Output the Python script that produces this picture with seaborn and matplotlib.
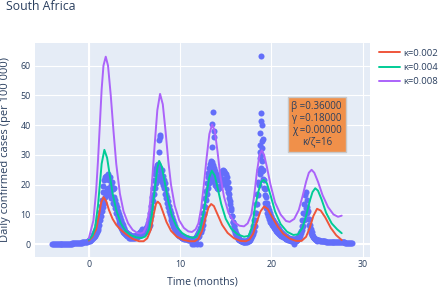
import numpy as np
import pandas as pd
import matplotlib
matplotlib.use('Agg')
import matplotlib.pyplot as plt
import seaborn as sns

# Observed daily cases (per 100 000), one value every 0.1 month from t=-4.0
cases_a = [
    0.1, 0.1, 0.1, 0.1, 0.1, 0.1, 0.1, 0.1, 0.1, 0.1,
    0.1, 0.1, 0.1, 0.1, 0.2, 0.1, 0.2, 0.2, 0.2, 0.2,
    0.2, 0.3, 0.2, 0.3, 0.3, 0.3, 0.4, 0.3, 0.4, 0.4,
    0.5, 0.4, 0.5, 0.6, 0.6, 0.7, 0.7, 0.9, 0.9, 1.1,
    1.3, 1.5, 1.8, 2.1, 2.5, 3.0, 3.6, 4.3, 5.2, 6.3,
    7.5, 9.0, 10.8, 12.8, 15.0, 17.5, 19.5, 21.5, 22.5, 23.0,
    22.0, 23.5, 21.5, 22.5, 20.0, 21.0, 18.5, 19.0, 16.0, 15.0,
    13.5, 12.5, 11.0, 10.0, 9.0, 8.0, 7.2, 6.4, 5.6, 5.0,
    4.6, 4.2, 3.8, 3.5, 3.3, 3.1, 2.9, 2.8, 2.7, 2.6,
    2.6, 2.7, 2.9, 3.1, 3.4, 3.8, 4.2, 4.6, 5.0, 4.6,
    4.8, 5.2, 5.0, 5.5, 6.2, 7.0, 8.5, 10.5, 13.0, 16.0,
    19.0, 21.5, 23.5, 25.0, 25.5, 26.5, 27.0, 31.0, 25.5, 24.5,
    25.0, 23.0, 21.5, 20.5, 18.5, 17.0, 16.0, 14.5, 13.0, 11.5,
    10.5, 9.0, 8.0, 7.0, 6.0, 5.2, 4.5, 4.0, 3.6, 3.2,
    3.0, 2.8, 2.6, 2.5, 2.4, 2.3, 2.2, 2.1, 2.0, 2.0,
    1.9, 1.8, 1.8, 1.7, 1.7, 1.8, 2.0, 2.3, 2.7, 3.2,
    3.8, 4.5, 5.5, 7.0, 8.5, 10.5, 13.0, 15.5, 18.0, 20.5,
    22.5, 24.0, 25.5, 27.0, 28.0, 27.5, 26.5, 25.5, 24.5, 23.5,
    22.5, 22.0, 21.5, 22.0, 23.0, 24.0, 24.5, 25.0, 24.5, 24.0,
    23.5, 22.5, 21.0, 19.0, 17.0, 14.5, 12.0, 9.5, 7.5, 6.0,
    4.8, 3.8, 3.0, 2.4, 1.9, 1.6, 1.4, 1.2, 1.1, 1.0,
    1.0, 1.0, 1.0, 1.1, 1.3, 1.6, 2.0, 2.6, 3.4, 4.5,
    6.0, 8.0, 10.5, 13.5, 17.0, 21.0, 25.0, 29.0, 31.0, 30.0,
    28.0, 25.0, 21.5, 18.5, 16.0, 14.0, 12.5, 11.5, 10.5, 9.5,
    9.0, 8.5, 8.0, 7.5, 7.0, 6.5, 6.0, 5.5, 5.0, 4.5,
    4.2, 3.9, 3.6, 3.3, 3.0, 2.8, 2.6, 2.4, 2.2, 2.0,
    1.9, 1.8, 1.7, 1.6, 1.6, 1.6, 1.7, 1.8, 2.0, 2.3,
    2.8, 3.6, 4.6, 6.0, 8.0, 10.5, 13.5, 16.5, 17.5, 15.0,
    11.0, 8.5, 6.5, 5.0, 4.0, 3.2, 2.6, 2.2, 1.9, 1.7,
    1.5, 1.4, 1.3, 1.2, 1.2, 1.1, 1.1, 1.0, 1.0, 1.0,
    0.9, 0.9, 0.9, 0.8, 0.8, 0.8, 0.8, 0.8, 0.7, 0.7,
    0.7, 0.7, 0.7, 0.6, 0.6, 0.6, 0.6, 0.6, 0.6, 0.6,
    0.6, 0.5, 0.5, 0.5, 0.5, 0.5, 0.5, 0.5, 0.5,
]
# the in-between days from t=0.05 to 24.95 (gives the spread of the cloud)
cases_b = [
    1.0, 1.2, 1.5, 1.8, 2.0, 2.4, 2.8, 3.4, 4.0, 4.8,
    5.5, 6.5, 8.0, 9.5, 11.0, 12.5, 14.0, 16.0, 17.5, 18.5,
    17.5, 19.0, 16.5, 17.5, 15.5, 16.0, 14.0, 13.5, 12.0, 10.5,
    10.0, 9.0, 8.0, 7.0, 6.2, 5.5, 4.8, 4.2, 3.8, 3.4,
    3.1, 2.8, 2.6, 2.4, 2.2, 2.1, 2.0, 2.0, 2.0, 2.1,
    2.2, 2.3, 2.4, 2.6, 2.8, 3.0, 3.2, 3.5, 3.8, 3.6,
    3.8, 4.2, 4.3, 4.6, 5.0, 5.8, 6.5, 8.0, 9.5, 12.0,
    14.5, 17.0, 19.0, 20.5, 21.5, 22.0, 23.0, 24.5, 22.0, 21.5,
    21.0, 20.0, 19.0, 17.0, 15.5, 14.0, 12.5, 11.0, 10.0, 9.0,
    8.0, 7.0, 6.2, 5.5, 4.8, 4.2, 3.6, 3.2, 2.9, 2.6,
    2.4, 2.2, 2.1, 2.0, 1.9, 1.8, 1.7, 1.6, 1.5, 1.5,
    1.4, 1.3, 1.2, 0.0, 1.3, 0.0, 1.5, 1.8, 0.0, 2.5,
    2.9, 0.0, 4.0, 5.0, 6.5, 8.0, 10.0, 12.5, 15.0, 17.0,
    19.0, 20.5, 21.5, 23.0, 24.0, 23.5, 22.0, 21.0, 20.0, 19.5,
    19.0, 18.5, 19.0, 19.5, 20.0, 21.0, 21.5, 22.0, 21.0, 20.5,
    20.0, 19.0, 17.5, 15.5, 13.5, 11.5, 9.5, 7.5, 6.0, 4.8,
    3.8, 3.0, 2.4, 1.9, 1.5, 1.3, 1.1, 1.0, 0.9, 0.8,
    0.8, 0.8, 0.8, 0.9, 1.0, 1.2, 1.5, 2.0, 2.6, 3.5,
    4.5, 6.0, 8.0, 10.5, 13.5, 16.5, 20.0, 23.5, 25.5, 24.5,
    22.0, 19.0, 16.5, 14.0, 12.0, 10.5, 9.5, 8.5, 7.5, 7.0,
    6.5, 6.0, 5.6, 5.2, 4.8, 4.4, 4.0, 3.7, 3.4, 3.1,
    2.9, 2.7, 2.5, 2.3, 2.1, 1.9, 1.8, 1.6, 1.5, 1.4,
    1.3, 1.2, 1.1, 1.1, 0.0, 1.1, 1.2, 1.3, 1.5, 1.8,
    2.2, 2.8, 3.6, 4.8, 6.2, 8.0, 10.0, 12.0, 12.5, 10.5,
    8.5, 6.5, 5.0, 3.8, 3.0, 2.4, 2.0, 1.6, 1.4, 1.2,
]
# isolated high reports
outlier_t = [7.75, 7.8, 7.72, 13.55, 13.5, 13.7, 13.75, 13.5,
             18.83, 18.85, 18.9, 18.92, 18.8, 19.05, 19.0, 18.8, 18.95]
outlier_y = [36.6, 35.9, 35.1, 44.3, 40.5, 37.9, 36.0, 32.5,
             63.4, 44.1, 41.5, 39.9, 37.4, 35.5, 34.8, 33.4, 32.3]

# model curves
k002_t = [0.0, 0.4, 0.8, 1.1, 1.35, 1.6, 1.9, 2.2, 2.6, 3.0, 3.5, 4.1, 4.8, 5.5, 6.0,
          6.4, 6.8, 7.1, 7.35, 7.55, 7.8, 8.1, 8.5, 9.0, 9.6, 10.3, 11.0, 11.6, 12.0,
          12.4, 12.8, 13.1, 13.4, 13.7, 14.1, 14.6, 15.2, 15.9, 16.6, 17.2, 17.6,
          18.0, 18.4, 18.8, 19.2, 19.6, 20.1, 20.7, 21.3, 22.0, 22.7, 23.3, 23.8,
          24.2, 24.6, 25.0, 25.4, 25.9, 26.5, 27.1, 27.7]
k002_y = [1.2, 2.5, 5.0, 9.5, 14.0, 15.8, 14.5, 11.5, 8.5, 6.5, 4.8, 3.3, 1.8, 1.0, 1.0,
          2.0, 5.0, 10.0, 13.5, 14.3, 13.5, 11.0, 7.5, 4.5, 2.6, 1.5, 1.0, 1.0, 1.8,
          4.5, 9.0, 12.3, 13.5, 12.8, 10.0, 6.5, 3.8, 2.0, 1.1, 1.0, 1.6,
          3.5, 7.5, 11.0, 12.7, 11.8, 9.0, 5.9, 3.5, 1.9, 1.1, 1.1, 2.5,
          5.5, 9.5, 11.9, 11.3, 9.0, 5.5, 3.0, 1.4]

k004_t = [0.0, 0.4, 0.7, 1.0, 1.2, 1.4, 1.7, 2.0, 2.3, 2.6, 3.0, 3.5, 4.0, 4.6, 5.2, 5.8,
          6.2, 6.6, 6.9, 7.2, 7.5, 7.7, 8.0, 8.3, 8.7, 9.1, 9.6, 10.2, 10.8, 11.4, 11.8,
          12.2, 12.6, 12.9, 13.2, 13.47, 13.8, 14.1, 14.5, 15.0, 15.6, 16.3, 17.0, 17.5,
          17.9, 18.2, 18.6, 18.9, 19.15, 19.5, 19.9, 20.4, 21.0, 21.7, 22.4, 22.9,
          23.4, 23.8, 24.2, 24.5, 24.8, 25.1, 25.5, 26.0, 26.6, 27.2, 27.7]
k004_y = [1.5, 3.0, 6.0, 13.0, 20.0, 27.0, 31.7, 29.0, 23.0, 17.0, 11.5, 7.0, 4.5, 3.0, 2.3, 2.1,
          2.6, 5.0, 10.0, 18.0, 25.5, 28.0, 26.0, 21.0, 14.5, 9.5, 6.0, 3.8, 2.6, 2.1, 2.6,
          5.0, 11.0, 17.0, 22.5, 24.7, 23.0, 19.0, 13.5, 8.5, 5.2, 3.3, 2.5, 2.8,
          6.0, 12.5, 18.0, 21.0, 21.6, 20.5, 16.5, 11.0, 6.8, 4.2, 3.1, 3.3,
          5.5, 9.5, 14.5, 17.5, 18.8, 18.0, 15.0, 10.5, 7.0, 5.0, 3.7]

k008_t = [0.0, 0.5, 0.8, 1.0, 1.2, 1.4, 1.6, 1.85, 2.1, 2.4, 2.7, 3.0, 3.4, 3.8, 4.3, 4.8,
          5.3, 5.7, 6.0, 6.3, 6.6, 6.9, 7.2, 7.5, 7.8, 8.1, 8.4, 8.7, 9.0, 9.4, 9.9, 10.4,
          10.9, 11.3, 11.7, 12.0, 12.3, 12.6, 12.9, 13.2, 13.5, 13.8, 14.1, 14.4, 14.8,
          15.3, 15.9, 16.5, 17.0, 17.4, 17.8, 18.1, 18.4, 18.7, 18.95, 19.2, 19.5, 19.9,
          20.4, 21.0, 21.6, 22.0, 22.5, 23.0, 23.4, 23.8, 24.1, 24.4, 24.7, 25.1, 25.6,
          26.2, 26.8, 27.3, 27.7]
k008_y = [2.0, 8.0, 18.0, 28.0, 40.0, 52.0, 60.0, 63.0, 60.0, 50.0, 38.0, 27.0, 17.0, 11.0, 7.0, 4.8,
          3.8, 3.6, 4.0, 6.0, 11.0, 20.0, 33.0, 45.0, 50.5, 47.0, 38.0, 28.0, 20.0, 13.0, 8.0, 5.5,
          4.3, 4.1, 5.0, 7.0, 12.0, 20.0, 29.0, 37.0, 40.2, 38.0, 31.0, 23.0, 16.0,
          10.5, 7.5, 6.2, 6.0, 7.0, 10.0, 16.0, 24.0, 30.0, 31.5, 30.0, 26.0, 20.0,
          14.0, 10.0, 7.8, 7.5, 8.5, 11.5, 16.0, 21.0, 24.0, 25.0, 24.0, 21.0, 16.5,
          12.5, 10.0, 9.2, 9.6]

params_text = "β =0.36000\nγ =0.18000\nχ =0.00000\nκ/ζ=16"

# time axes for the daily reports
t_a = np.arange(len(cases_a)) / 10 - 4.0
t_b = np.arange(len(cases_b)) / 10 + 0.05
obs = pd.DataFrame({'t': np.concatenate([t_a, t_b, outlier_t]),
                    'cases': np.concatenate([cases_a, cases_b, outlier_y])})

sns.set_theme(style='darkgrid', rc={'axes.facecolor': '#E5ECF6', 'grid.color': 'white',
                                    'grid.linewidth': 0.8})
plt.rcParams['font.family'] = ['Open Sans', 'DejaVu Sans']
txt = '#2a3f5f'

fig, ax = plt.subplots(figsize=(4.4, 2.88), dpi=100)
fig.subplots_adjust(left=35/440, right=370/440, top=1-43/288, bottom=1-257/288)

ax.axhline(0, color='white', lw=1.5, zorder=1)
ax.axvline(0, color='white', lw=1.5, zorder=1)

sns.scatterplot(data=obs, x='t', y='cases', color='#636efa', s=19, linewidth=0,
                ax=ax, zorder=2, legend=False)
sns.lineplot(x=k002_t, y=k002_y, color='#EF553B', lw=1.4, ax=ax, label='κ=0.002', zorder=3)
sns.lineplot(x=k004_t, y=k004_y, color='#00cc96', lw=1.4, ax=ax, label='κ=0.004', zorder=3)
sns.lineplot(x=k008_t, y=k008_y, color='#ab63fa', lw=1.4, ax=ax, label='κ=0.008', zorder=3)

ax.set_xlim(-5.9, 30.8)
ax.set_ylim(-4.3, 67.6)
ax.set_xticks([0, 10, 20, 30])
ax.set_yticks([0, 10, 20, 30, 40, 50, 60])
ax.tick_params(length=0, labelsize=6.4, labelcolor=txt)
ax.tick_params(axis='y', pad=3)
ax.tick_params(axis='x', pad=2.5)
ax.set_xlabel('Time (months)', fontsize=7.6, color=txt, labelpad=5)
ax.set_ylabel('')
fig.text(6/440, 1-150/288, 'Daily confirmed cases (per 100 000)', rotation=90,
         ha='center', va='center', fontsize=8, color=txt)
for s in ax.spines.values():
    s.set_visible(False)

ax.text(0.841, 0.619, params_text, transform=ax.transAxes, ha='center', va='center',
        fontsize=7, color=txt, linespacing=1.1,
        bbox=dict(boxstyle='square,pad=0.4', fc='#F0904A', ec='#c8c8c8', lw=1))

ax.legend(loc='upper left', bbox_to_anchor=(1.01, 1.0), frameon=False, fontsize=6.8,
          handlelength=2.2, handletextpad=0.4, labelspacing=0.55, labelcolor=txt,
          borderaxespad=0.2)

fig.text(6/440, 1-7/288, 'South Africa', ha='left', va='center', fontsize=8.8, color=txt)

fig.savefig('out.png', dpi=100)
